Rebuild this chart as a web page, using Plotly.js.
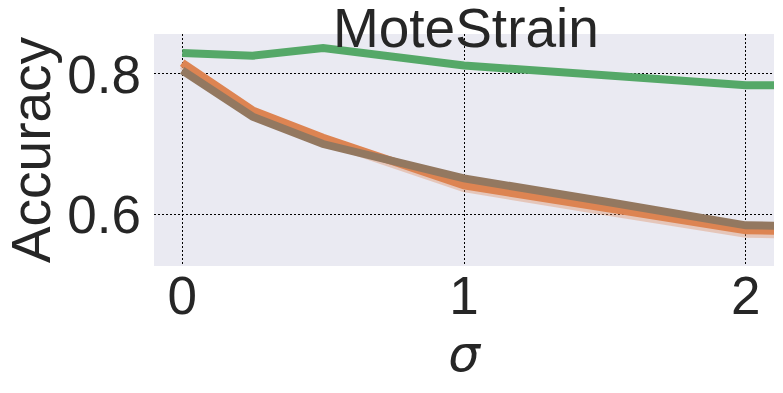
<!DOCTYPE html>
<html>
<head>
<meta charset="utf-8">
<script src="https://cdn.plot.ly/plotly-3.0.1.min.js"></script>
<style>
  html, body { margin: 0; padding: 0; background: #fff; }
  #chart { width: 783px; height: 393px; }
</style>
</head>
<body>
<div id="chart"></div>
<script>
'use strict';

// valeurs
var sigma = [0, 0.25, 0.5, 1, 1.5, 2, 2.5];
var accGreen = [0.830, 0.826, 0.837, 0.812, 0.798, 0.784, 0.784];
var accOrange = [0.816, 0.748, 0.709, 0.641, 0.609, 0.577, 0.573];
var accOrangeLow = [0.812, 0.744, 0.705, 0.637, 0.604, 0.572, 0.568];
var accBrown = [0.805, 0.739, 0.700, 0.651, 0.618, 0.584, 0.581];
var xTicks = [0, 1, 2];
var yTicks = [0.6, 0.8];

var textColor = '#262626';
var mainFont = 'Liberation Sans, Arial, sans-serif';

function line(y, color) {
  return {
    x: sigma,
    y: y,
    type: 'scatter',
    mode: 'lines',
    line: { color: color, width: 8 },
    hoverinfo: 'skip'
  };
}

var data = [
  line(accOrangeLow, 'rgba(221,132,82,0.35)'),
  line(accOrange, '#DD8452'),
  line(accBrown, '#937860'),
  line(accGreen, '#55A868')
];

var layout = {
  width: 783,
  height: 393,
  showlegend: false,
  paper_bgcolor: '#ffffff',
  plot_bgcolor: '#EAEAF2',
  margin: { l: 154, r: 9, t: 34, b: 127 },
  title: {
    text: 'MoteStrain',
    font: { family: mainFont, size: 55, color: textColor },
    x: 0.595,
    xanchor: 'center',
    y: 0.929,
    yanchor: 'middle'
  },
  xaxis: {
    range: [-0.1, 2.1],
    tickvals: xTicks,
    ticktext: xTicks.map(String),
    ticks: '',
    ticklabelstandoff: -6,
    tickfont: { family: mainFont, size: 53, color: textColor },
    showgrid: true,
    gridcolor: '#000000',
    gridwidth: 1,
    griddash: '1.5px,2.5px',
    zeroline: false,
    showline: false,
    title: {
      text: '\u03c3',
      font: { family: 'DejaVu Sans', size: 50, color: textColor, style: 'italic' },
      standoff: 8
    }
  },
  yaxis: {
    range: [0.526, 0.857],
    tickvals: yTicks,
    ticktext: yTicks.map(function (v) { return v.toFixed(1); }),
    ticks: '',
    ticklabelstandoff: 12,
    tickfont: { family: mainFont, size: 53, color: textColor },
    showgrid: true,
    gridcolor: '#000000',
    gridwidth: 1,
    griddash: '1.5px,2.5px',
    zeroline: false,
    showline: false,
    title: {
      text: 'Accuracy',
      font: { family: mainFont, size: 55, color: textColor },
      standoff: 4
    }
  }
};

Plotly.newPlot('chart', data, layout, { displayModeBar: false, staticPlot: true });
</script>
</body>
</html>
